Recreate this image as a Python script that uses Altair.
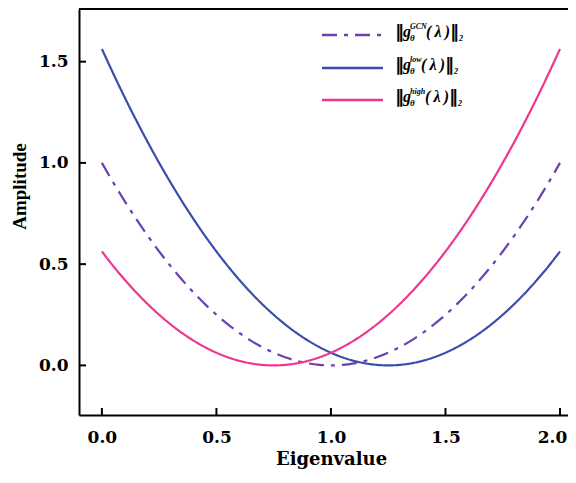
import altair as alt
import pandas as pd

# ---- data ----
lam = [0.00, 0.05, 0.10, 0.15, 0.20, 0.25, 0.30, 0.35, 0.40, 0.45,
       0.50, 0.55, 0.60, 0.65, 0.70, 0.75, 0.80, 0.85, 0.90, 0.95,
       1.00, 1.05, 1.10, 1.15, 1.20, 1.25, 1.30, 1.35, 1.40, 1.45,
       1.50, 1.55, 1.60, 1.65, 1.70, 1.75, 1.80, 1.85, 1.90, 1.95, 2.00]
gcn = [1.0, 0.9025, 0.81, 0.7225, 0.64, 0.5625, 0.49, 0.4225, 0.36, 0.3025,
       0.25, 0.2025, 0.16, 0.1225, 0.09, 0.0625, 0.04, 0.0225, 0.01, 0.0025,
       0.0, 0.0025, 0.01, 0.0225, 0.04, 0.0625, 0.09, 0.1225, 0.16, 0.2025,
       0.25, 0.3025, 0.36, 0.4225, 0.49, 0.5625, 0.64, 0.7225, 0.81, 0.9025, 1.0]
low = [1.5625, 1.44, 1.3225, 1.21, 1.1025, 1.0, 0.9025, 0.81, 0.7225, 0.64,
       0.5625, 0.49, 0.4225, 0.36, 0.3025, 0.25, 0.2025, 0.16, 0.1225, 0.09,
       0.0625, 0.04, 0.0225, 0.01, 0.0025, 0.0, 0.0025, 0.01, 0.0225, 0.04,
       0.0625, 0.09, 0.1225, 0.16, 0.2025, 0.25, 0.3025, 0.36, 0.4225, 0.49, 0.5625]
high = [0.5625, 0.49, 0.4225, 0.36, 0.3025, 0.25, 0.2025, 0.16, 0.1225, 0.09,
        0.0625, 0.04, 0.0225, 0.01, 0.0025, 0.0, 0.0025, 0.01, 0.0225, 0.04,
        0.0625, 0.09, 0.1225, 0.16, 0.2025, 0.25, 0.3025, 0.36, 0.4225, 0.49,
        0.5625, 0.64, 0.7225, 0.81, 0.9025, 1.0, 1.1025, 1.21, 1.3225, 1.44, 1.5625]
series_names = ["GCN", "low", "high"]
colors = ["#6a40b2", "#3b4cab", "#ee3590"]
x_ticks = [0.0, 0.5, 1.0, 1.5, 2.0]
y_ticks = [0.0, 0.5, 1.0, 1.5]

W, H = 489, 406

rows = []
for name, vals in zip(series_names, [gcn, low, high]):
    for l, v in zip(lam, vals):
        rows.append({"lam": l, "amp": v, "series": name})
df = pd.DataFrame(rows)

xs = alt.Scale(domain=[-0.1, 2.035], nice=False, zero=False)
ys = alt.Scale(domain=[-0.245, 1.76], nice=False, zero=False)

lab = dict(labelFont="DejaVu Serif", labelFontWeight="bold", labelFontSize=17,
           labelColor="black", ticks=False, tickSize=0, grid=False,
           domainColor="black", domainWidth=2, labelFlush=False)

x_axis = alt.Axis(values=x_ticks, format=".1f", labelPadding=14,
                  labelOffset=alt.ConditionalAxisNumber(
                      condition={"test": "datum.value >= 2", "value": -8}, value=0),
                  titleFont="DejaVu Serif", titleFontWeight="bold",
                  titleFontSize=18, titleColor="black",
                  titleX=252, titleY=49, titleBaseline="alphabetic",
                  titleAlign="center", **lab)
y_axis = alt.Axis(values=y_ticks, format=".1f", labelPadding=11,
                  titleFont="Liberation Serif", titleFontWeight="bold",
                  titleFontSize=19, titleColor="black",
                  titleX=-60, titleY=177, titleAngle=-90,
                  titleBaseline="middle", titleAlign="center", **lab)

lines = alt.Chart(df).mark_line(strokeWidth=2.2, interpolate="monotone").encode(
    x=alt.X("lam:Q", scale=xs, title="Eigenvalue", axis=x_axis),
    y=alt.Y("amp:Q", scale=ys, title="Amplitude", axis=y_axis),
    color=alt.Color("series:N", scale=alt.Scale(domain=series_names, range=colors), legend=None),
    strokeDash=alt.StrokeDash("series:N",
                              scale=alt.Scale(domain=series_names,
                                              range=[[15, 7, 4, 7], [1, 0], [1, 0]]),
                              legend=None),
)

xt = alt.Chart(pd.DataFrame({"lam": x_ticks})).mark_rule(color="black", strokeWidth=2).encode(
    x=alt.X("lam:Q", scale=xs, title="Eigenvalue", axis=x_axis),
    y=alt.value(H), y2=alt.value(H - 7))
yt = alt.Chart(pd.DataFrame({"amp": y_ticks})).mark_rule(color="black", strokeWidth=2).encode(
    y=alt.Y("amp:Q", scale=ys, title="Amplitude", axis=y_axis),
    x=alt.value(0), x2=alt.value(7))
top = alt.Chart(pd.DataFrame({"a": [0]})).mark_rule(color="black", strokeWidth=2).encode(
    x=alt.value(0), x2=alt.value(W), y=alt.value(0))

layers = [lines, xt, yt, top]

one = pd.DataFrame({"a": [0]})
line_y = [26, 59, 91]
base_y = [28, 61, 93]
paren_x = [347, 342, 346]
dashes = [[15, 7, 4, 7], [1, 0], [1, 0]]
for i, name in enumerate(series_names):
    layers.append(alt.Chart(one).mark_rule(color=colors[i], strokeWidth=2.4,
                                           strokeDash=dashes[i]).encode(
        x=alt.value(243), x2=alt.value(304), y=alt.value(line_y[i])))
    pieces = [
        ("\u2016", 316, 1, 18, "normal", "DejaVu Sans"),
        ("g", 324, 0, 16, "italic", "Liberation Serif"),
        ("\u03b8", 331, 4, 9, "italic", "Liberation Serif"),
        (name, 331, -8, 8, "italic", "Liberation Serif"),
        ("(\u2009\u03bb\u2009)", paren_x[i], 0, 16, "italic", "Liberation Serif"),
        ("\u2016", paren_x[i] + 24, 1, 18, "normal", "DejaVu Sans"),
        ("2", paren_x[i] + 33, 4, 8, "italic", "Liberation Serif"),
    ]
    for txt, px, dy, fs, st, fnt in pieces:
        layers.append(alt.Chart(one).mark_text(
            text=txt, align="left", baseline="alphabetic", font=fnt,
            fontWeight="bold", fontStyle=st, fontSize=fs, color="black").encode(
            x=alt.value(px), y=alt.value(base_y[i] + dy)))

chart = alt.layer(*layers).properties(
    width=W, height=H,
    padding={"left": 71, "top": 1, "right": 0, "bottom": 54},
    autosize=alt.AutoSizeParams(type="none"),
).configure_view(stroke=None)

chart.save("out.html", embed_options={"renderer": "svg", "actions": False})
